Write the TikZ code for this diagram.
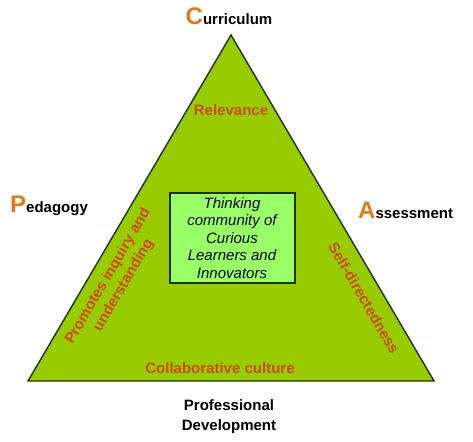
\documentclass[tikz,border=0pt]{standalone}
\usepackage{fontspec}
\setmainfont{Liberation Sans}
\usetikzlibrary{positioning}

\definecolor{leafgreen}{HTML}{99CC00}
\definecolor{edgegreen}{HTML}{1A3300}
\definecolor{paleleaf}{HTML}{99FF66}
\definecolor{rust}{HTML}{CC4A00}
\definecolor{capsorange}{HTML}{E07B1A}

\tikzset{
  inner label/.style={text=rust, font=\bfseries\fontsize{15}{18}\selectfont, align=center, inner sep=0pt},
  corner label/.style={font=\bfseries\fontsize{15}{20}\selectfont, align=center, inner sep=0pt},
}
\newcommand{\firstcap}[1]{{\color{capsorange}\fontsize{24}{24}\selectfont #1}}

\begin{document}
\begin{tikzpicture}[x=1pt, y=-1pt]
  % Page frame, in pixels of the reference.
  \useasboundingbox (0,0) rectangle (473,441);
  % Triangle corners.
  \coordinate (apex) at (231,35);
  \coordinate (baseL) at (28,381);
  \coordinate (baseR) at (434,381);
  \filldraw[fill=leafgreen, draw=edgegreen, line width=1.4pt, line join=miter]
    (apex) -- (baseL) -- (baseR) -- cycle;
  % Centre box.
  \node[draw=edgegreen, line width=2pt, fill=paleleaf, minimum width=125pt,
        minimum height=90pt, align=center, inner sep=1pt,
        font=\itshape\fontsize{15}{17.5}\selectfont] (core) at (232,238)
    {Thinking\\community of\\Curious\\Learners and\\Innovators};
  % Labels inside the triangle.
  \node[inner label] (relevance) at (231,110) {Relevance};
  \node[inner label] (culture) at (220,368) {Collaborative culture};
  \node[inner label, rotate=59.6] (inquiry) at (116,281)
    {Promotes inquiry and\\understanding};
  \node[inner label, rotate=-59.6] (selfdir) at (364,298) {Self-directedness};
  % Labels round the triangle.
  \node[corner label, anchor=base] (curric) at (229,25) {\firstcap{C}urriculum};
  \node[corner label, anchor=base west] (pedag) at (10,212) {\firstcap{P}edagogy};
  \node[corner label, anchor=base west] (assess) at (358,218) {\firstcap{A}ssessment};
  \node[corner label] (profdev) at (229,417)
    {Professional\\Development};
\end{tikzpicture}
\end{document}
